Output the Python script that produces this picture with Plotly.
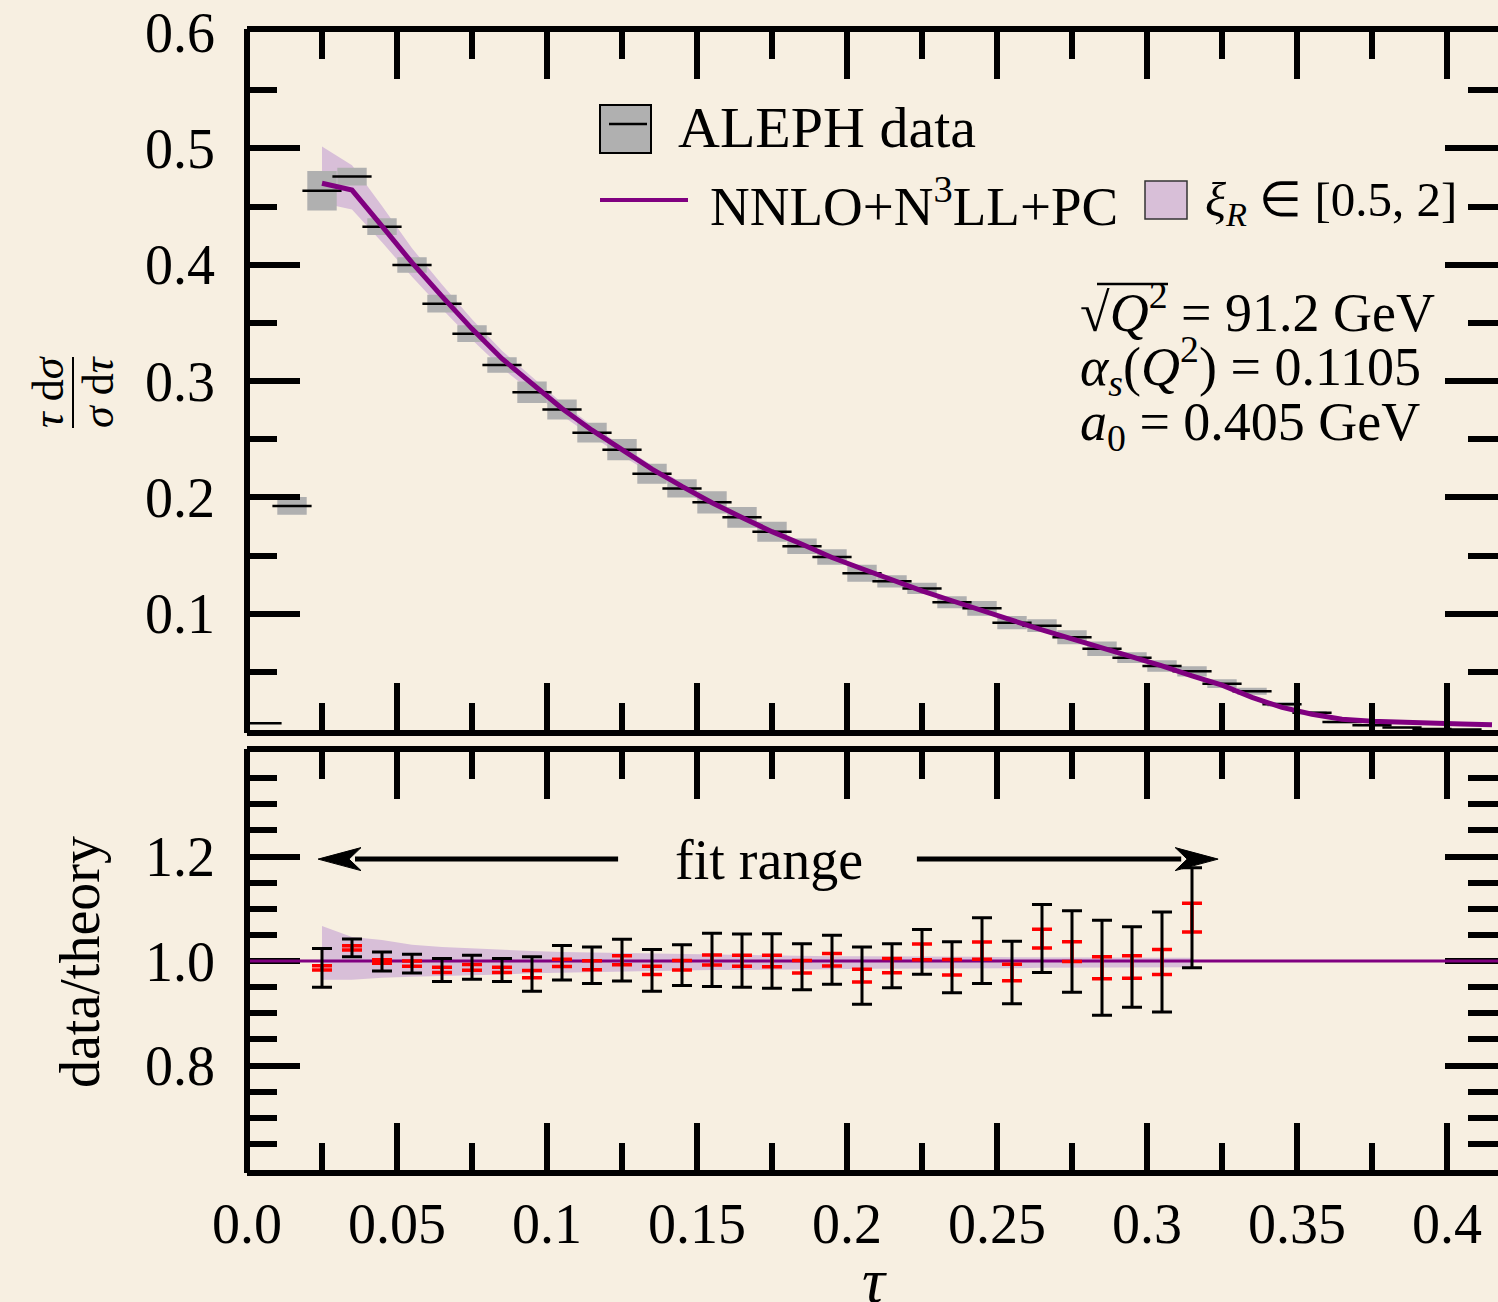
import plotly.graph_objects as go

# ---------------------------------------------------------------------------
# ALEPH distribution at sqrt(Q^2) = 91.2 GeV, bins of width 0.01 in tau
# ---------------------------------------------------------------------------
tau_bins = [0.005, 0.015, 0.025, 0.035, 0.045, 0.055, 0.065, 0.075, 0.085, 0.095,
            0.105, 0.115, 0.125, 0.135, 0.145, 0.155, 0.165, 0.175, 0.185, 0.195,
            0.205, 0.215, 0.225, 0.235, 0.245, 0.255, 0.265, 0.275, 0.285, 0.295,
            0.305, 0.315, 0.325, 0.335, 0.345, 0.355, 0.365, 0.375, 0.385, 0.395,
            0.405]
aleph_val = [0.0058, 0.1926, 0.4636, 0.4757, 0.4327, 0.3997, 0.3665, 0.3407, 0.3138, 0.2903,
             0.2754, 0.2556, 0.2410, 0.2203, 0.2077, 0.1957, 0.1828, 0.1705, 0.1579, 0.1487,
             0.1347, 0.1278, 0.1217, 0.1098, 0.1046, 0.0922, 0.0897, 0.0797, 0.0699, 0.0622,
             0.0550, 0.0504, 0.0398, 0.0333, 0.0221, 0.0149, 0.0069, 0.0040, 0.0021, 0.0008,
             0.0004]
aleph_err = [0.0005, 0.0076, 0.0170, 0.0077, 0.0072, 0.0066, 0.0077, 0.0072, 0.0067, 0.0093,
             0.0086, 0.0085, 0.0092, 0.0086, 0.0079, 0.0095, 0.0089, 0.0086, 0.0067, 0.0067,
             0.0073, 0.0052, 0.0049, 0.0052, 0.0063, 0.0057, 0.0054, 0.0060, 0.0062, 0.0047,
             0.0050, 0.0044, 0.0038, 0.0030, 0.0020, 0.0015, 0.0010, 0.0008, 0.0006, 0.0005,
             0.0004]
bin_width = 0.01

# NNLO+N3LL+PC prediction
tau_theory = [0.025, 0.035, 0.045, 0.055, 0.065, 0.075, 0.085, 0.095, 0.105, 0.115,
              0.125, 0.135, 0.145, 0.155, 0.165, 0.175, 0.185, 0.195, 0.205, 0.215,
              0.225, 0.235, 0.245, 0.255, 0.265, 0.275, 0.285, 0.295, 0.305, 0.315,
              0.325, 0.335, 0.345, 0.355, 0.365, 0.375, 0.385, 0.395, 0.405, 0.415]
theory_val = [0.4700, 0.4641, 0.4331, 0.4017, 0.3728, 0.3448, 0.3192, 0.2977, 0.2764, 0.2577,
              0.2406, 0.2243, 0.2094, 0.1953, 0.1827, 0.1705, 0.1597, 0.1483, 0.1386, 0.1290,
              0.1196, 0.1111, 0.1025, 0.0943, 0.0860, 0.0783, 0.0708, 0.0629, 0.0551, 0.0466,
              0.0385, 0.0280, 0.0195, 0.0135, 0.0093, 0.0075, 0.0064, 0.0058, 0.0052, 0.0045]

# scale variation xi_R in [0.5, 2], relative to the central curve
tau_band = [0.025, 0.035, 0.045, 0.055, 0.065, 0.075, 0.085, 0.095, 0.105, 0.115,
            0.125, 0.135, 0.145, 0.155, 0.165, 0.175, 0.185, 0.195, 0.205, 0.215,
            0.225, 0.235, 0.245, 0.255, 0.265, 0.275, 0.285, 0.295, 0.305, 0.315]
band_hi = [1.067, 1.046, 1.040, 1.031, 1.027, 1.024, 1.021, 1.019, 1.017, 1.016,
           1.015, 1.0146, 1.014, 1.012, 1.011, 1.010, 1.010, 1.009, 1.009, 1.009,
           1.008, 1.008, 1.008, 1.007, 1.007, 1.007, 1.006, 1.006, 1.006, 1.006]
band_lo = [0.964, 0.964, 0.968, 0.970, 0.971, 0.973, 0.974, 0.9765, 0.978, 0.979,
           0.980, 0.981, 0.982, 0.983, 0.983, 0.984, 0.984, 0.984, 0.985, 0.985,
           0.985, 0.986, 0.986, 0.986, 0.987, 0.987, 0.987, 0.988, 0.988, 0.988]

# data / theory inside the fit window
tau_fit = tau_band
ratio_val = [0.987, 1.025, 0.999, 0.995, 0.983, 0.988, 0.983, 0.975, 0.9965, 0.992,
             1.0016, 0.982, 0.992, 1.002, 1.0006, 1.000, 0.989, 1.0025, 0.972, 0.991,
             1.0175, 0.988, 1.020, 0.978, 1.043, 1.018, 0.987, 0.9886, 0.998, 1.083]
ratio_err_tot = [0.037, 0.017, 0.018, 0.018, 0.022, 0.023, 0.022, 0.033, 0.033, 0.035,
                 0.040, 0.040, 0.039, 0.051, 0.051, 0.052, 0.044, 0.047, 0.055, 0.042,
                 0.043, 0.049, 0.063, 0.060, 0.065, 0.078, 0.091, 0.077, 0.0956, 0.0957]
ratio_err_stat = [0.004, 0.004, 0.0035, 0.005, 0.005, 0.0055, 0.005, 0.007, 0.007, 0.0086,
                  0.0086, 0.008, 0.009, 0.0095, 0.0105, 0.011, 0.012, 0.012, 0.012, 0.0137,
                  0.015, 0.015, 0.0165, 0.016, 0.018, 0.019, 0.021, 0.0216, 0.024, 0.0276]
fit_range = [0.0237, 0.3237]

x_ticks = [0.0, 0.05, 0.1, 0.15, 0.2, 0.25, 0.3, 0.35, 0.4]
x_tick_text = ["0.0", "0.05", "0.1", "0.15", "0.2", "0.25", "0.3", "0.35", "0.4"]
x_minor = [0.025, 0.075, 0.125, 0.175, 0.225, 0.275, 0.325, 0.375]
y_top_ticks = [0.1, 0.2, 0.3, 0.4, 0.5, 0.6]
y_top_text = ["0.1", "0.2", "0.3", "0.4", "0.5", "0.6"]
y_top_minor = [0.05, 0.15, 0.25, 0.35, 0.45, 0.55]
y_bot_ticks = [0.8, 1.0, 1.2]
y_bot_text = ["0.8", "1.0", "1.2"]
y_bot_minor = [0.65, 0.7, 0.75, 0.85, 0.9, 0.95, 1.05, 1.1, 1.15, 1.25, 1.3, 1.35]

# ---------------------------------------------------------------------------
# styling / geometry
# ---------------------------------------------------------------------------
W, H = 1498, 1302
ML, MR, MT, MB = 247, 0, 32, 132
PLOT_H = H - MT - MB
TOP_BOTTOM_PX, BOT_TOP_PX = 730, 752
top_dom = [(H - MB - TOP_BOTTOM_PX) / PLOT_H, 1.0]
bot_dom = [0.0, (H - MB - BOT_TOP_PX) / PLOT_H]
X_RANGE = [0.0, 0.417]

BG = "#f7efe1"
PURPLE = "#800080"
THISTLE = "#d8bfd8"
GREY = "#b0b0b0"
FONT = "Liberation Serif"
FS = 56


def px_x(px):
    return (px - ML) / (W - ML - MR)


def px_y(py):
    return (H - MB - py) / PLOT_H


fig = go.Figure()

# --- top panel -------------------------------------------------------------
band_x = tau_band + tau_band[::-1]
band_y = ([t * h for t, h in zip(theory_val, band_hi)] +
          [t * l for t, l in zip(theory_val, band_lo)][::-1])
fig.add_trace(go.Scatter(x=band_x, y=band_y, fill="toself", fillcolor=THISTLE,
                         line=dict(width=0), mode="lines", hoverinfo="skip",
                         xaxis="x", yaxis="y", showlegend=False))

# data uncertainty boxes, one closed polygon per bin
bx, by = [], []
for t, v, e in zip(tau_bins, aleph_val, aleph_err):
    x0, x1 = t - 0.49 * bin_width, t + 0.49 * bin_width
    bx += [x0, x1, x1, x0, x0, None]
    by += [v - e, v - e, v + e, v + e, v - e, None]
fig.add_trace(go.Scatter(x=bx, y=by, fill="toself", fillcolor=GREY, mode="lines",
                         line=dict(width=0), hoverinfo="skip",
                         xaxis="x", yaxis="y", showlegend=False))

fig.add_trace(go.Scatter(x=tau_bins, y=aleph_val, mode="markers",
                         marker=dict(symbol="line-ew", size=28,
                                     line=dict(width=2.5, color="black")),
                         xaxis="x", yaxis="y", showlegend=False))

fig.add_trace(go.Scatter(x=tau_theory, y=theory_val, mode="lines",
                         line=dict(color=PURPLE, width=5),
                         xaxis="x", yaxis="y", showlegend=False))

# --- ratio panel -----------------------------------------------------------
fig.add_trace(go.Scatter(x=tau_band + tau_band[::-1], y=band_hi + band_lo[::-1],
                         fill="toself", fillcolor=THISTLE, line=dict(width=0),
                         mode="lines", hoverinfo="skip",
                         xaxis="x2", yaxis="y2", showlegend=False))
fig.add_trace(go.Scatter(x=X_RANGE, y=[1.0, 1.0], mode="lines",
                         line=dict(color=PURPLE, width=3),
                         xaxis="x2", yaxis="y2", showlegend=False))
fig.add_trace(go.Scatter(x=tau_fit, y=ratio_val, mode="markers",
                         marker=dict(size=1, color="rgba(0,0,0,0)"),
                         error_y=dict(type="data", array=ratio_err_stat, color="#ff0000",
                                      thickness=3.5, width=10),
                         xaxis="x2", yaxis="y2", showlegend=False))
fig.add_trace(go.Scatter(x=tau_fit, y=ratio_val, mode="markers",
                         marker=dict(size=1, color="rgba(0,0,0,0)"),
                         error_y=dict(type="data", array=ratio_err_tot, color="black",
                                      thickness=3, width=10),
                         xaxis="x2", yaxis="y2", showlegend=False))

# ---------------------------------------------------------------------------
# axes
# ---------------------------------------------------------------------------
tick_font = dict(family=FONT, size=FS, color="black")
xcommon = dict(range=X_RANGE, showline=True, linewidth=6, linecolor="black",
               mirror="ticks", ticks="inside", ticklen=47, tickwidth=6, tickcolor="black",
               showgrid=False, zeroline=False,
               minor=dict(tickvals=x_minor, ticks="inside", ticklen=27, tickwidth=6,
                          tickcolor="black", showgrid=False))
ycommon = dict(showline=False, mirror="ticks", ticks="inside", ticklen=53, tickwidth=6,
               tickcolor="black", showgrid=False, zeroline=False, tickfont=tick_font,
               ticklabelstandoff=31)

fig.update_layout(
    xaxis=dict(**xcommon, domain=[0, 1], anchor="y", tickvals=x_ticks[1:],
               showticklabels=False),
    yaxis=dict(**ycommon, domain=top_dom, anchor="x", range=[0, 0.6],
               tickvals=y_top_ticks, ticktext=y_top_text,
               minor=dict(tickvals=y_top_minor, ticks="inside", ticklen=30, tickwidth=6,
                          tickcolor="black", showgrid=False)),
    xaxis2=dict(**xcommon, domain=[0, 1], anchor="y2", tickvals=x_ticks,
                ticktext=x_tick_text, tickfont=tick_font, ticklabelstandoff=0),
    yaxis2=dict(**ycommon, domain=bot_dom, anchor="x2", range=[0.6, 1.4],
                tickvals=y_bot_ticks, ticktext=y_bot_text, layer="below traces",
                minor=dict(tickvals=y_bot_minor, ticks="inside", ticklen=30, tickwidth=6,
                           tickcolor="black", showgrid=False)),
)

# ---------------------------------------------------------------------------
# frame (left edges), legend, labels
# ---------------------------------------------------------------------------
shapes = []
ext = 3 / PLOT_H
for d in (top_dom, bot_dom):
    shapes.append(dict(type="line", xref="paper", yref="paper", x0=0, x1=0,
                       y0=d[0] - ext, y1=d[1] + ext, line=dict(color="black", width=6)))

# legend entries
shapes.append(dict(type="rect", xref="paper", yref="paper",
                   x0=px_x(600), x1=px_x(651), y0=px_y(153), y1=px_y(105),
                   fillcolor=GREY, line=dict(color="black", width=2)))
shapes.append(dict(type="line", xref="paper", yref="paper",
                   x0=px_x(609), x1=px_x(647), y0=px_y(124), y1=px_y(124),
                   line=dict(color="black", width=2.5)))
shapes.append(dict(type="line", xref="paper", yref="paper",
                   x0=px_x(600), x1=px_x(688), y0=px_y(200), y1=px_y(200),
                   line=dict(color=PURPLE, width=4)))
shapes.append(dict(type="rect", xref="paper", yref="paper",
                   x0=px_x(1145), x1=px_x(1187), y0=px_y(219), y1=px_y(181),
                   fillcolor=THISTLE, line=dict(color="#333333", width=1.5)))

# fraction bar of the y title
shapes.append(dict(type="line", xref="paper", yref="paper",
                   x0=px_x(73), x1=px_x(73), y0=px_y(428), y1=px_y(357),
                   line=dict(color="black", width=2)))

# vinculum of the square root
shapes.append(dict(type="line", xref="paper", yref="paper",
                   x0=px_x(1097), x1=px_x(1168), y0=px_y(284), y1=px_y(284),
                   line=dict(color="black", width=2.5)))

# fit range arrows
arrow_y = 1.195
head_len, head_half, notch = 0.0143, 0.022, 0.002
shaft_w = 5
left_gap, right_gap = 0.1237, 0.2233
shapes.append(dict(type="line", xref="x2", yref="y2",
                   x0=fit_range[0] + head_len - notch, x1=left_gap, y0=arrow_y, y1=arrow_y,
                   line=dict(color="black", width=shaft_w)))
shapes.append(dict(type="line", xref="x2", yref="y2",
                   x0=right_gap, x1=fit_range[1] - head_len + notch, y0=arrow_y, y1=arrow_y,
                   line=dict(color="black", width=shaft_w)))
lt = fit_range[0]
shapes.append(dict(type="path", xref="x2", yref="y2", fillcolor="black",
                   line=dict(color="black", width=1),
                   path=(f"M{lt},{arrow_y} L{lt + head_len},{arrow_y + head_half} "
                         f"L{lt + head_len - 2 * notch},{arrow_y} "
                         f"L{lt + head_len},{arrow_y - head_half} Z")))
rt = fit_range[1]
shapes.append(dict(type="path", xref="x2", yref="y2", fillcolor="black",
                   line=dict(color="black", width=1),
                   path=(f"M{rt},{arrow_y} L{rt - head_len},{arrow_y + head_half} "
                         f"L{rt - head_len + 2 * notch},{arrow_y} "
                         f"L{rt - head_len},{arrow_y - head_half} Z")))

annotations = []


def text(px, py, s, size=FS, xanchor="left", angle=0):
    annotations.append(dict(xref="paper", yref="paper", x=px_x(px), y=px_y(py), text=s,
                            showarrow=False, xanchor=xanchor, yanchor="middle",
                            textangle=angle,
                            font=dict(family=FONT, size=size, color="black")))


text(676, 128, "ALEPH data", size=58)
text(708, 203, "NNLO+N<sup>3</sup>LL+PC", size=55)
text(1203, 203, "<i>ξ<sub>R</sub></i> ∈ [0.5, 2]", size=49)

text(1078, 308, "√<i>Q</i><sup>2</sup> = 91.2 GeV", size=54)
text(1078, 366, "<i>α<sub>s</sub></i>(<i>Q</i><sup>2</sup>) = 0.1105", size=54)
text(1078, 425, "<i>a</i><sub>0</sub> = 0.405 GeV", size=54)

text(769, 860, "fit range", xanchor="center")

text(48, 392, "<i>τ</i> d<i>σ</i>", size=44, xanchor="center", angle=-90)
text(98, 392, "<i>σ</i> d<i>τ</i>", size=44, xanchor="center", angle=-90)
text(80, 962, "data/theory", xanchor="center", angle=-90)
text(875, 1280, "<i>τ</i>", size=64, xanchor="center")

fig.update_layout(
    width=W, height=H, autosize=False,
    margin=dict(l=ML, r=MR, t=MT, b=MB, pad=0),
    paper_bgcolor=BG, plot_bgcolor=BG,
    showlegend=False,
    font=dict(family=FONT, size=FS, color="black"),
    shapes=shapes, annotations=annotations,
)

fig.write_html("out.html")
